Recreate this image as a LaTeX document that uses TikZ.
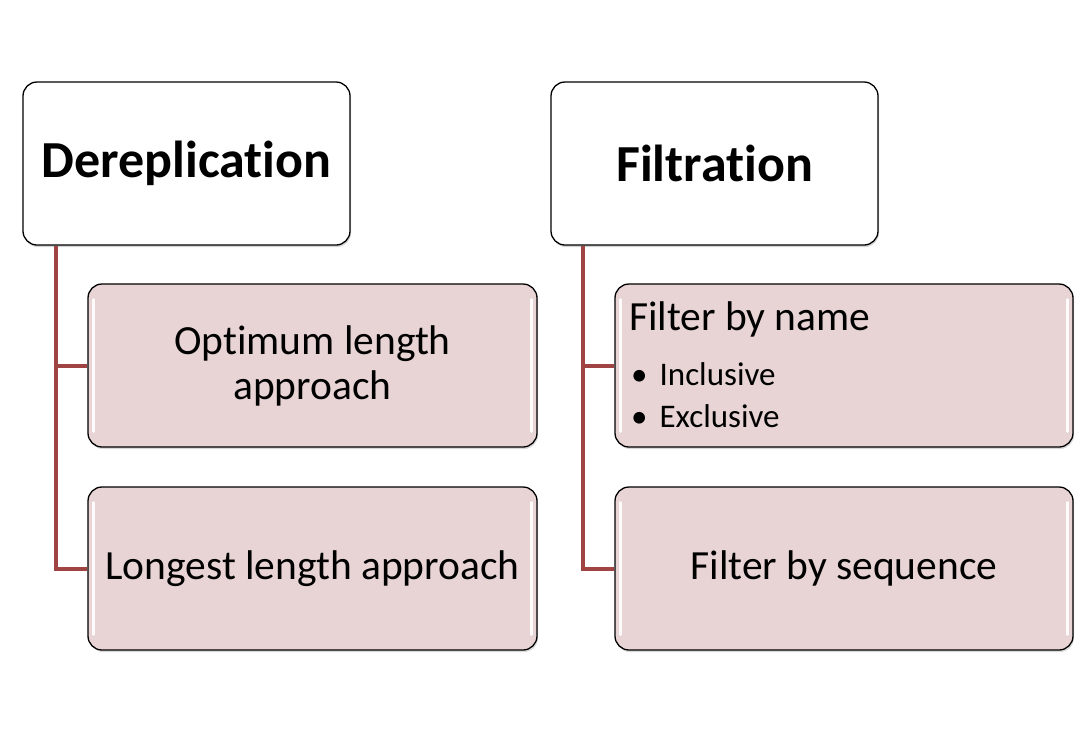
\documentclass[tikz,border=0pt]{standalone}
\usepackage{fontspec}
\setmainfont[Ligatures=NoCommon]{Carlito}
\usetikzlibrary{calc,shadows}
\definecolor{conn}{HTML}{A04343}
\definecolor{childfill}{HTML}{E8D4D4}
\tikzset{
  topbox/.style={draw=black, line width=1.3pt, fill=white, rounded corners=14pt,
    minimum width=327pt, minimum height=163pt, inner sep=0pt,
    font=\fontsize{52}{62}\selectfont\bfseries,
    drop shadow={shadow xshift=1pt, shadow yshift=-2pt, opacity=0.35}},
  childbox/.style={draw=black, line width=1.3pt, fill=childfill, rounded corners=14pt,
    inner sep=0pt, minimum height=163pt, font=\fontsize{41.5}{45}\selectfont, align=center,
    drop shadow={shadow xshift=1pt, shadow yshift=-2pt, opacity=0.3}},
  leftchild/.style={childbox, minimum width=449pt},
  rightchild/.style={childbox, minimum width=458pt},
  connector/.style={draw=conn, line width=4pt},
  gloss/.style={draw=white, line width=2.5pt, line cap=round, opacity=0.9},
}
\begin{document}
\begin{tikzpicture}[x=1pt, y=-1pt]
\useasboundingbox (0,0) rectangle (1078,732);
% top boxes
\node[topbox] (D) at (186.5,163.5) {Dereplication};
\node[topbox] (F) at (714.5,163.5) {Filtration};
% child boxes
\node[leftchild] (d1) at (312.5,365.5) {Optimum length\\approach};
\node[leftchild] (d2) at (312.5,568.5) {Longest length approach};
\node[rightchild] (f1) at (844,365.5) {};
\node[rightchild] (f2) at (844,568.5) {Filter by sequence};
\node[anchor=base west, align=left, inner sep=0pt, font=\fontsize{41.5}{45}\selectfont] (f1t) at (629,330) {Filter by name};
\node[anchor=base west, inner sep=0pt, font=\fontsize{33}{42}\selectfont] (f1b1) at (631,385) {\textbullet\hspace{12pt}Inclusive};
\node[anchor=base west, inner sep=0pt, font=\fontsize{33}{42}\selectfont] (f1b2) at (631,427) {\textbullet\hspace{12pt}Exclusive};
% gloss highlights
\foreach \n in {d1,d2,f1,f2}{
  \draw[gloss] ($(\n.north west)+(6,16)$) -- ($(\n.south west)+(6,-16)$);
  \draw[gloss] ($(\n.north east)+(-6,16)$) -- ($(\n.south east)+(-6,-16)$);
}
% connectors
\coordinate (dl) at ($(D.south west)+(34,0)$);
\coordinate (fl) at ($(F.south west)+(33,0)$);
\draw[connector] (dl) |- (d1.west);
\draw[connector] (dl) |- (d2.west);
\draw[connector] (fl) |- (f1.west);
\draw[connector] (fl) |- (f2.west);
\end{tikzpicture}
\end{document}
